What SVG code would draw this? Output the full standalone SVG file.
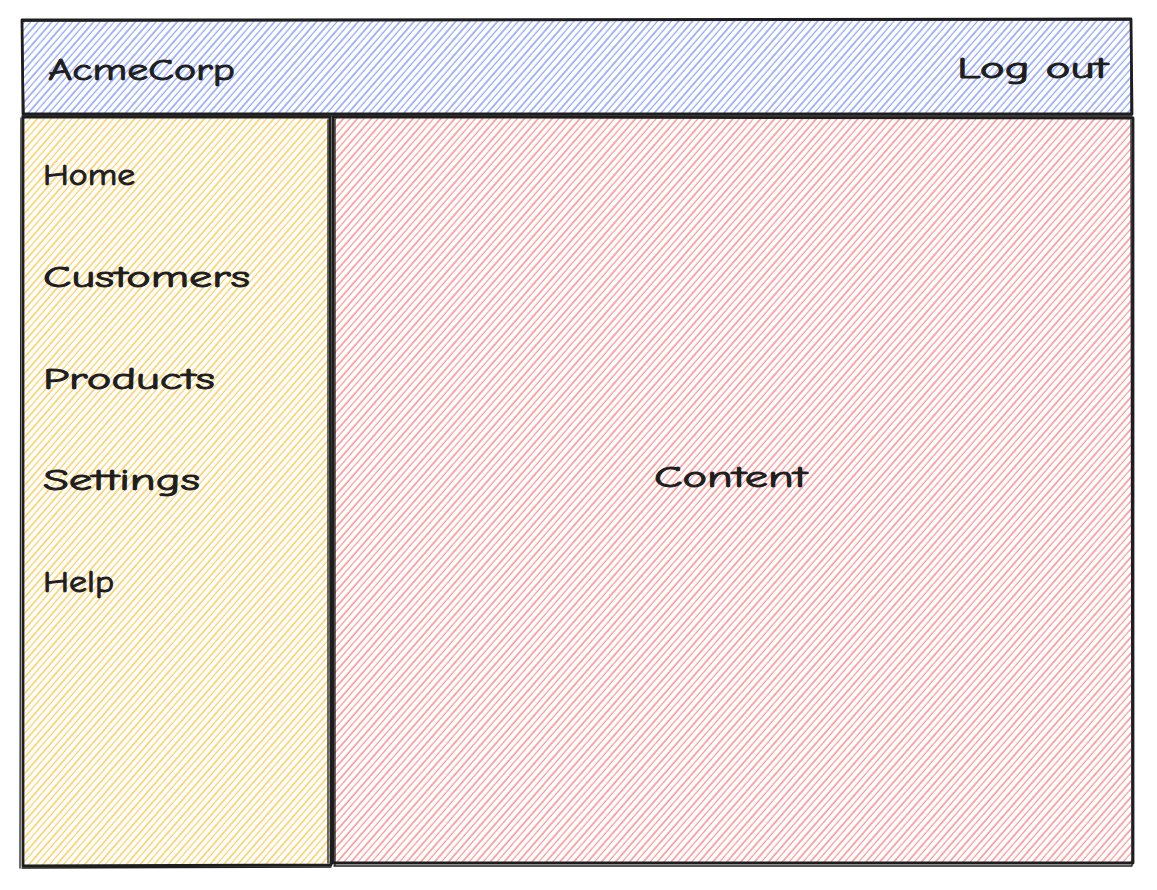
<svg xmlns="http://www.w3.org/2000/svg" width="1157" height="890" viewBox="0 0 1157 890">
<style>
.lbl{font-family:"Comic Neue","Liberation Sans","DejaVu Sans",sans-serif;font-size:30px;fill:#1e1e1e;stroke:#1e1e1e;stroke-width:0.9}
.edge{fill:none;stroke:#1e1e1e;stroke-width:2.8;stroke-linecap:round;stroke-linejoin:round}
.edge2{fill:none;stroke:#1e1e1e;stroke-width:1.3;stroke-linecap:round}
</style>
<defs>
<pattern id="hb" width="10" height="10.5" patternUnits="userSpaceOnUse" patternTransform="rotate(-49)">
<line x1="0" y1="1" x2="10" y2="1" stroke="#4c6ef5" stroke-width="1"/>
<line x1="0" y1="6" x2="10" y2="6" stroke="#4c6ef5" stroke-width="0.9" opacity="0.85"/>
</pattern>
<pattern id="hy" width="10" height="10.5" patternUnits="userSpaceOnUse" patternTransform="rotate(-49)">
<line x1="0" y1="1" x2="10" y2="1" stroke="#fab005" stroke-width="1"/>
<line x1="0" y1="6" x2="10" y2="6" stroke="#fab005" stroke-width="0.9" opacity="0.85"/>
</pattern>
<pattern id="hr" width="10" height="10.5" patternUnits="userSpaceOnUse" patternTransform="rotate(-49)">
<line x1="0" y1="1" x2="10" y2="1" stroke="#fa5252" stroke-width="1"/>
<line x1="0" y1="6" x2="10" y2="6" stroke="#fa5252" stroke-width="0.9" opacity="0.85"/>
</pattern>
</defs>
<rect width="1157" height="890" fill="#ffffff"/>
<g id="header">
<rect x="23" y="20" width="1109" height="94" fill="url(#hb)"/>
<path class="edge" d="M22 20 L1131 19 L1132 114 L23 114 Z"/>
<path class="edge2" d="M23 21 L1130 20 M1131 21 L1131 113 M22 116 L1132 116 M22 20 L24 114"/>
<text class="lbl" x="48" y="80" textLength="187" lengthAdjust="spacingAndGlyphs">AcmeCorp</text>
<text class="lbl" x="957" y="78" textLength="151" lengthAdjust="spacingAndGlyphs">Log out</text>
</g>
<g id="sidebar">
<rect x="24" y="118" width="307" height="748" fill="url(#hy)"/>
<path class="edge" d="M23 117 L330 117 L331 865 L23 866 Z"/>
<path class="edge2" d="M21 118 L20 868 M328 120 L328 863 M22 868 L331 867"/>
<text class="lbl" x="43" y="185" textLength="92" lengthAdjust="spacingAndGlyphs">Home</text>
<text class="lbl" x="43" y="287" textLength="207" lengthAdjust="spacingAndGlyphs">Customers</text>
<text class="lbl" x="43" y="389" textLength="172" lengthAdjust="spacingAndGlyphs">Products</text>
<text class="lbl" x="43" y="490" textLength="157" lengthAdjust="spacingAndGlyphs">Settings</text>
<text class="lbl" x="43" y="592" textLength="71" lengthAdjust="spacingAndGlyphs">Help</text>
</g>
<g id="content">
<rect x="334" y="118" width="798" height="746" fill="url(#hr)"/>
<path class="edge" d="M333 117 L1133 118 L1133 863 L333 863 Z"/>
<path class="edge2" d="M335 119 L335 866 M334 866 L1132 866 M1131 120 L1132 866"/>
<text class="lbl" x="654" y="487" textLength="153" lengthAdjust="spacingAndGlyphs">Content</text>
</g>
<g id="connectors"></g>
</svg>
